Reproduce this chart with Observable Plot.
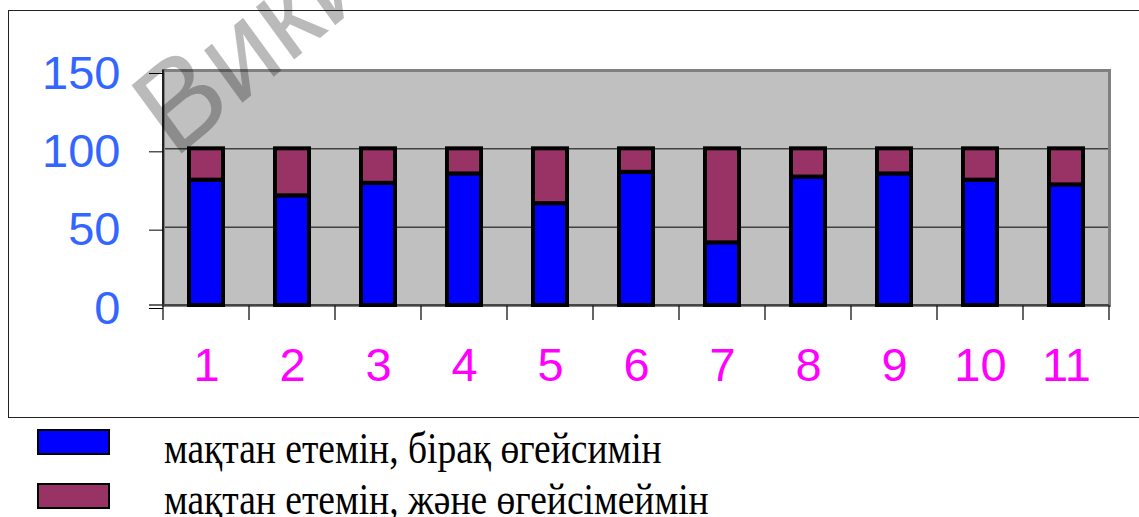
<!DOCTYPE html>
<html>
<head>
<meta charset="utf-8">
<script src="https://cdn.jsdelivr.net/npm/d3@7"></script>
<script src="https://cdn.jsdelivr.net/npm/@observablehq/plot@0.6"></script>
<style>
  html, body { margin: 0; padding: 0; background: #ffffff; }
  #wrap { position: relative; width: 1139px; height: 517px; overflow: hidden; background: #fff; }
  #outer { position: absolute; left: 8px; top: 10px; width: 1160px; height: 408px; border: 1.5px solid #222; box-sizing: border-box; }
  #chart { position: absolute; left: 0; top: 0; }
  .sw { position: absolute; left: 37px; width: 73px; height: 26px; border: 2px solid #000; box-sizing: border-box; }
  .lt { position: absolute; left: 164px; font-family: "Liberation Serif", "Times New Roman", serif; font-size: 37.5px; line-height: 1; color: #000; white-space: nowrap; transform: scaleY(1.2); transform-origin: 0 31px; }
</style>
</head>
<body>
<div id="wrap">
  <div id="outer"></div>
  <div id="chart"></div>
  <div id="legend"></div>
</div>
<script>
// ---- data ----
const categories = ["1", "2", "3", "4", "5", "6", "7", "8", "9", "10", "11"];
const seriesNames = ["мақтан етемін, бірақ өгейсимін", "мақтан етемін, және өгейсімеймін"];
const blueValues = [80, 70, 78, 84, 65, 85, 40, 82, 84, 80, 77];
const maroonValues = [20, 30, 22, 16, 35, 15, 60, 18, 16, 20, 23];
const seriesColors = ["#0000ff", "#993366"];
const yTicks = [0, 50, 100, 150];
const gridValues = [50, 100];
const watermarkText = "Вики";

const rows = [];
categories.forEach((c, i) => {
  rows.push({category: c, series: seriesNames[0], value: blueValues[i]});
  rows.push({category: c, series: seriesNames[1], value: maroonValues[i]});
});

// boundary ticks below the x axis and left axis line
function categoryTicks(index, scales, values, dims) {
  const g = d3.create("svg:g");
  const x = scales.x, y = scales.y;
  const bw = (dims.width - dims.marginLeft - dims.marginRight) / categories.length;
  const y0 = y(0);
  const bounds = categories.map(c => x(c)).concat([x(categories[categories.length - 1]) + bw]);
  g.selectAll("line.b").data(bounds).join("line")
    .attr("x1", d => d).attr("x2", d => d)
    .attr("y1", y0).attr("y2", y0 + 15)
    .attr("stroke", "#000").attr("stroke-width", 1.2);
  g.append("line")
    .attr("x1", dims.marginLeft).attr("x2", dims.marginLeft)
    .attr("y1", y(150)).attr("y2", y0)
    .attr("stroke", "#222").attr("stroke-width", 2);
  g.append("line")
    .attr("x1", dims.marginLeft - 14).attr("x2", dims.width - dims.marginRight)
    .attr("y1", y0).attr("y2", y0)
    .attr("stroke", "#333").attr("stroke-width", 1.5);
  return g.node();
}

function watermark() {
  const g = d3.create("svg:g");
  g.append("text")
    .attr("transform", "translate(174,160) scale(1,1.07) rotate(-38)")
    .attr("text-anchor", "start")
    .attr("font-family", "'Liberation Sans', Arial, sans-serif")
    .attr("font-size", 118)
    .attr("fill", "#000")
    .attr("fill-opacity", 0.27)
    .text(watermarkText);
  return g.node();
}

const chart = Plot.plot({
  width: 1139,
  height: 420,
  marginLeft: 163,
  marginRight: 30,
  marginTop: 70,
  marginBottom: 115,
  style: {fontFamily: "'Liberation Sans', Arial, sans-serif", background: "transparent", overflow: "visible"},
  x: {type: "band", domain: categories, padding: 0, axis: null},
  y: {domain: [0, 150], axis: null},
  color: {domain: seriesNames, range: seriesColors},
  marks: [
    Plot.frame({fill: "#c0c0c0"}),
    Plot.ruleY(gridValues, {stroke: "#000", strokeWidth: 1}),
    Plot.frame({stroke: "#808080", strokeWidth: 3}),
    categoryTicks,
    Plot.rectY(rows, {x: "category", y: "value", fill: "series", stroke: "#000", strokeWidth: 4, insetLeft: 26, insetRight: 26, order: seriesNames}),
    Plot.axisY({ticks: yTicks, tickSize: 14, tickPadding: 29, fontSize: 47, fill: "#3366ff", stroke: "#000", dy: 3, label: null, tickFormat: d => String(d)}),
    Plot.axisX({tickSize: 0, tickPadding: 42, fontSize: 47, fill: "#ff00ff", label: null}),
    watermark
  ]
});
document.getElementById("chart").appendChild(chart);

// legend below the chart
const legend = document.getElementById("legend");
const swTops = [429, 483];
const txtTops = [432, 483];
seriesNames.forEach((name, i) => {
  const sw = document.createElement("div");
  sw.className = "sw";
  sw.style.top = swTops[i] + "px";
  sw.style.background = seriesColors[i];
  legend.appendChild(sw);
  const t = document.createElement("div");
  t.className = "lt";
  t.style.top = txtTops[i] + "px";
  t.textContent = name;
  legend.appendChild(t);
});
</script>
</body>
</html>
